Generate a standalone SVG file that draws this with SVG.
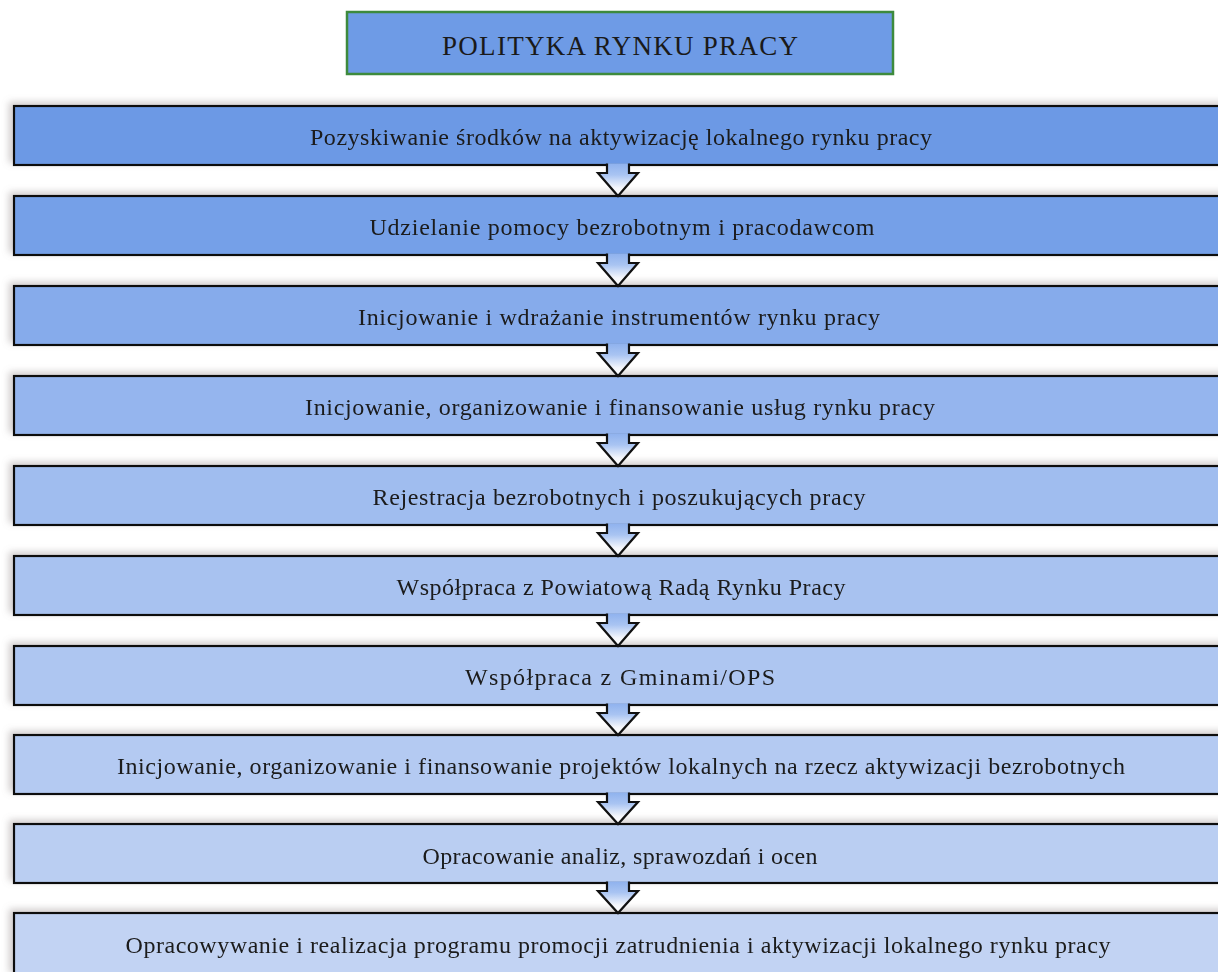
<svg xmlns="http://www.w3.org/2000/svg" width="1218" height="972" viewBox="0 0 1218 972">
<defs>
<style>
.box{stroke:#111;stroke-width:2.2}
.t{font-family:"Liberation Serif",serif;font-size:24px;fill:#1a1a1a;text-anchor:middle}
.arr{stroke:#111;stroke-width:2.2;stroke-linejoin:miter;fill:url(#ag)}
</style>
<linearGradient id="ag" x1="0" y1="0" x2="0" y2="1">
<stop offset="0" stop-color="#8fb2ee"/>
<stop offset="0.35" stop-color="#a9c4f2"/>
<stop offset="0.75" stop-color="#f4f6fb"/>
<stop offset="1" stop-color="#ffffff"/>
</linearGradient>
<filter id="sh" x="-5%" y="-40%" width="110%" height="180%">
<feGaussianBlur in="SourceAlpha" stdDeviation="3.5"/>
<feOffset dx="-4" dy="-3" result="b"/>
<feFlood flood-color="#8a8080" flood-opacity="0.4"/>
<feComposite in2="b" operator="in"/>
<feMerge><feMergeNode/><feMergeNode in="SourceGraphic"/></feMerge>
</filter>
</defs>
<rect width="1218" height="972" fill="#ffffff"/>
<g id="title">
<rect x="347" y="12" width="546" height="62" fill="#6e9be6" stroke="#3d8a3d" stroke-width="2.5"/>
<text x="620" y="55" style="font-family:'Liberation Serif',serif;font-size:27px;fill:#1a1a1a;text-anchor:middle" textLength="356">POLITYKA RYNKU PRACY</text>
</g>
<g id="n1" filter="url(#sh)"><rect class="box" x="14" y="106" width="1220" height="59" fill="#6c99e5"/><text class="t" x="621" y="145" textLength="622">Pozyskiwanie środków na aktywizację lokalnego rynku pracy</text></g>
<g id="n2" filter="url(#sh)"><rect class="box" x="14" y="196" width="1220" height="59" fill="#74a0e8"/><text class="t" x="622" y="235" textLength="505">Udzielanie pomocy bezrobotnym i pracodawcom</text></g>
<g id="n3" filter="url(#sh)"><rect class="box" x="14" y="286" width="1220" height="59" fill="#86abeb"/><text class="t" x="619" y="325" textLength="522">Inicjowanie i wdrażanie instrumentów rynku pracy</text></g>
<g id="n4" filter="url(#sh)"><rect class="box" x="14" y="376" width="1220" height="59" fill="#95b5ee"/><text class="t" x="620" y="415" textLength="630">Inicjowanie, organizowanie i finansowanie usług rynku pracy</text></g>
<g id="n5" filter="url(#sh)"><rect class="box" x="14" y="466" width="1220" height="59" fill="#a0bdef"/><text class="t" x="619" y="505" textLength="493">Rejestracja bezrobotnych i poszukujących pracy</text></g>
<g id="n6" filter="url(#sh)"><rect class="box" x="14" y="556" width="1220" height="59" fill="#a8c2f0"/><text class="t" x="621" y="595" textLength="449">Współpraca z Powiatową Radą Rynku Pracy</text></g>
<g id="n7" filter="url(#sh)"><rect class="box" x="14" y="646" width="1220" height="59" fill="#aec6f1"/><text class="t" x="620" y="685" textLength="310">Współpraca z Gminami/OPS</text></g>
<g id="n8" filter="url(#sh)"><rect class="box" x="14" y="735" width="1220" height="59" fill="#b4caf2"/><text class="t" x="621" y="774" textLength="1008">Inicjowanie, organizowanie i finansowanie projektów lokalnych na rzecz aktywizacji bezrobotnych</text></g>
<g id="n9" filter="url(#sh)"><rect class="box" x="14" y="824" width="1220" height="59" fill="#bacef2"/><text class="t" x="620" y="864" textLength="395">Opracowanie analiz, sprawozdań i ocen</text></g>
<g id="n10" filter="url(#sh)"><rect class="box" x="14" y="913" width="1220" height="62" fill="#c2d3f3"/><text class="t" x="618" y="953" textLength="985">Opracowywanie i realizacja programu promocji zatrudnienia i aktywizacji lokalnego rynku pracy</text></g>
<g id="connectors">
<path class="arr" d="M607,163.5 L607,173 L598,173 L618,196 L638,173 L629,173 L629,163.5"/>
<path class="arr" d="M607,253.5 L607,263 L598,263 L618,286 L638,263 L629,263 L629,253.5"/>
<path class="arr" d="M607,343.5 L607,353 L598,353 L618,376 L638,353 L629,353 L629,343.5"/>
<path class="arr" d="M607,433.5 L607,443 L598,443 L618,466 L638,443 L629,443 L629,433.5"/>
<path class="arr" d="M607,523.5 L607,533 L598,533 L618,556 L638,533 L629,533 L629,523.5"/>
<path class="arr" d="M607,613.5 L607,623 L598,623 L618,646 L638,623 L629,623 L629,613.5"/>
<path class="arr" d="M607,703.5 L607,713 L598,713 L618,735 L638,713 L629,713 L629,703.5"/>
<path class="arr" d="M607,792.5 L607,802 L598,802 L618,824 L638,802 L629,802 L629,792.5"/>
<path class="arr" d="M607,881.5 L607,891 L598,891 L618,913 L638,891 L629,891 L629,881.5"/>
</g>
</svg>
